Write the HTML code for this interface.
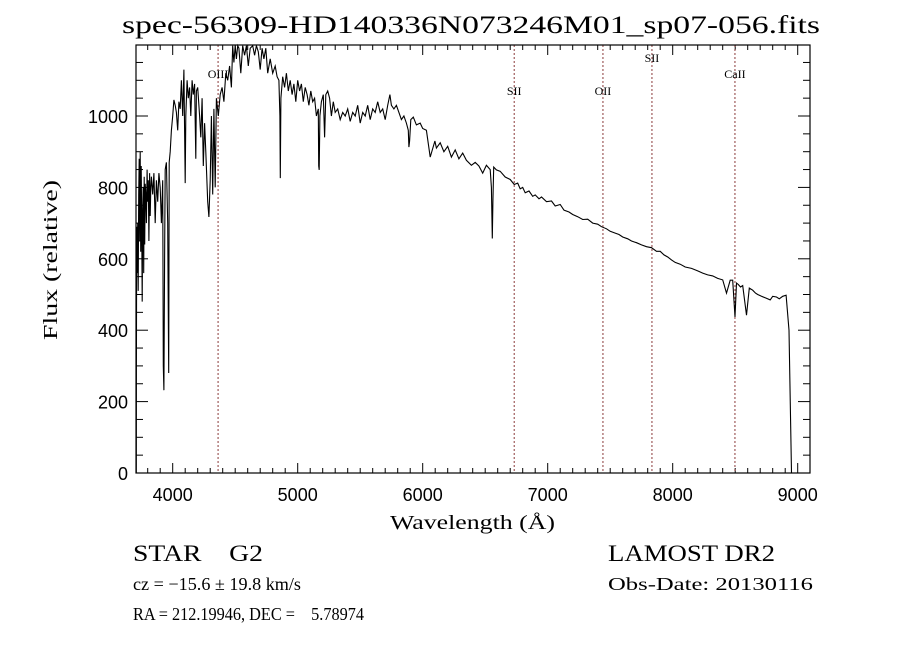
<!DOCTYPE html>
<html><head><meta charset="utf-8"><style>
html,body{margin:0;padding:0;background:#fff;}
svg{display:block;}
</style></head><body>
<svg id="chart" width="900" height="649" viewBox="0 0 900 649" xmlns="http://www.w3.org/2000/svg">
<rect x="0" y="0" width="900" height="649" fill="#fff"/>
<text x="122" y="33" font-family="Liberation Serif, serif" font-size="25" textLength="698" lengthAdjust="spacingAndGlyphs">spec-56309-HD140336N073246M01_sp07-056.fits</text>
<g id="axes"></g>
<g id="lines"></g>
<path id="spec" fill="none" stroke="#000" stroke-width="1.1"/>
<rect x="136" y="45" width="674" height="428" fill="none" stroke="#000" stroke-width="1.2"/>
<text x="390" y="529" font-family="Liberation Serif, serif" font-size="20" textLength="165" lengthAdjust="spacingAndGlyphs">Wavelength (Å)</text>
<text transform="translate(57,340) rotate(-90)" font-family="Liberation Serif, serif" font-size="20" textLength="160" lengthAdjust="spacingAndGlyphs">Flux (relative)</text>
<text x="133" y="561" font-family="Liberation Serif, serif" font-size="23" textLength="130" lengthAdjust="spacingAndGlyphs" xml:space="preserve" style="white-space:pre">STAR    G2</text>
<text x="608" y="561" font-family="Liberation Serif, serif" font-size="23" textLength="167" lengthAdjust="spacingAndGlyphs">LAMOST DR2</text>
<text x="133" y="590" font-family="Liberation Serif, serif" font-size="18" textLength="168" lengthAdjust="spacingAndGlyphs">cz = −15.6 ± 19.8 km/s</text>
<text x="608" y="590" font-family="Liberation Serif, serif" font-size="18" textLength="205" lengthAdjust="spacingAndGlyphs">Obs-Date: 20130116</text>
<text x="133" y="620" font-family="Liberation Serif, serif" font-size="18" textLength="231" lengthAdjust="spacingAndGlyphs" xml:space="preserve" style="white-space:pre">RA = 212.19946, DEC =    5.78974</text>
</svg>
<script>
const wavelengths=[3709,3710,3712,3716,3720,3724,3728,3732,3736,3740,3744,3748,3752,3756,3760,3764,3768,3772,3776,3780,3785,3790,3795,3800,3805,3810,3815,3820,3825,3830,3840,3850,3860,3870,3880,3890,3900,3910,3920,3925,3930,3935,3940,3950,3960,3968,3972,3980,3990,4000,4010,4020,4030,4040,4050,4060,4070,4080,4090,4100,4105,4115,4125,4135,4145,4155,4165,4175,4185,4190,4200,4215,4225,4235,4245,4255,4265,4280,4290,4300,4310,4320,4330,4340,4350,4365,4380,4395,4410,4425,4440,4455,4470,4480,4490,4500,4510,4520,4530,4545,4560,4575,4590,4605,4620,4640,4655,4670,4685,4700,4715,4730,4745,4760,4780,4800,4820,4835,4850,4858,4861,4866,4880,4895,4910,4925,4940,4955,4970,4985,5000,5015,5030,5045,5060,5075,5090,5105,5120,5135,5150,5165,5168,5172,5178,5190,5205,5215,5225,5240,5255,5270,5285,5300,5320,5340,5360,5380,5400,5420,5440,5460,5480,5500,5520,5540,5560,5580,5600,5620,5640,5660,5680,5700,5720,5738,5750,5770,5790,5810,5830,5850,5870,5885,5890,5895,5905,5925,5950,5980,6000,6030,6060,6098,6110,6140,6170,6200,6230,6260,6290,6320,6350,6390,6420,6450,6480,6510,6540,6550,6557,6562,6568,6590,6620,6660,6700,6732,6760,6780,6800,6820,6850,6880,6900,6930,6950,6990,7030,7060,7100,7130,7170,7200,7240,7280,7320,7360,7400,7430,7470,7500,7540,7570,7600,7640,7670,7710,7750,7790,7830,7870,7900,7930,7960,7990,8020,8060,8100,8150,8200,8240,8280,8320,8360,8400,8430,8460,8480,8498,8510,8525,8542,8560,8590,8613,8640,8662,8680,8710,8747,8780,8800,8830,8853,8880,8907,8930,8950,8982,8992,8996];
const fluxes=[0,300,690,560,700,510,780,880,650,900,620,860,700,480,740,800,560,830,640,810,780,700,850,760,820,650,840,720,800,830,780,840,700,820,760,840,800,700,820,300,232,600,850,870,700,280,870,900,960,1000,1045,1030,1010,960,1040,1020,1100,1000,1130,812,1000,1100,1050,1080,1000,1100,1060,1090,880,1070,1080,1000,940,1050,860,980,900,760,717,820,1000,780,1020,800,1050,1000,1060,1080,1040,1120,1100,1140,1080,1200,1150,1230,1160,1220,1190,1120,1210,1170,1200,1140,1190,1210,1170,1200,1180,1130,1190,1160,1190,1120,1160,1120,1140,1110,1100,1000,826,1050,1110,1080,1120,1070,1100,1060,1090,1040,1100,1070,1090,1040,1080,1060,1030,1070,1040,1050,1000,1020,860,849,1000,1040,1060,940,1060,1070,1050,1000,1040,1010,1020,990,1010,1000,1020,985,1010,1000,1030,980,1010,1000,1030,990,1020,1010,1040,1010,1020,990,1030,1060,1030,1020,1030,1010,990,1000,980,960,913,930,990,997,975,980,965,960,885,930,910,925,900,915,885,905,880,896,876,862,870,860,840,862,850,800,657,760,857,849,845,829,822,808,812,796,800,785,790,775,779,768,773,760,762,748,752,736,731,724,718,710,711,700,697,690,684,677,672,668,661,656,650,645,639,634,631,621,621,611,605,597,590,585,577,573,566,560,555,552,545,541,504,540,540,437,532,528,521,525,442,518,512,504,500,495,490,485,495,493,488,495,498,400,0];
const tickLabelsX=["4000","5000","6000","7000","8000","9000"];
const tickLabelsY=["0","200","400","600","800","1000"];
const lineWaves=[4363,6732,7442,7834,8498];
const lineNames=["OIII","SII","OII","SII","CaII"];
const lineLabelY=[1120,1073,1073,1165,1120];

const X0=136,X1=810,Y0=473,Y1=45;
function xs(w){return 172.7+(w-4000)*0.125;}
function ys(v){return 473-v*0.357;}
const NS="http://www.w3.org/2000/svg";
const axes=document.getElementById('axes');
function mk(tag,attrs,parent){const e=document.createElementNS(NS,tag);for(const k in attrs)e.setAttribute(k,attrs[k]);parent.appendChild(e);return e;}

for(let w=3800;w<=9000;w+=100){
  const x=xs(w);if(x<X0||x>X1)continue;
  const major=(w%1000===0);const L=major?10:5;
  const t1=mk('line',{x1:x,x2:x,y1:Y0,y2:Y0-L,stroke:'#000','stroke-width':1},axes);
  
  
  const t2=mk('line',{x1:x,x2:x,y1:Y1,y2:Y1+L,stroke:'#000','stroke-width':1},axes);
  
  
}
tickLabelsX.forEach(s=>{
  const t=mk('text',{x:xs(+s),y:501,'text-anchor':'middle','font-family':'Liberation Sans, sans-serif','font-size':18},axes);
  t.textContent=s;
  
  
});
for(let v=0;v<=1250;v+=50){
  const y=ys(v);if(y<Y1)continue;
  const major=(v%200===0);const L=major?12:7;
  const t1=mk('line',{x1:X0,x2:X0+L,y1:y,y2:y,stroke:'#000','stroke-width':1},axes);
  
  
  const t2=mk('line',{x1:X1,x2:X1-L,y1:y,y2:y,stroke:'#000','stroke-width':1},axes);
  
  
}
tickLabelsY.forEach(s=>{
  const t=mk('text',{x:128,y:ys(+s)+7,'text-anchor':'end','font-family':'Liberation Sans, sans-serif','font-size':18},axes);
  t.textContent=s;
  
  
});
const lg=document.getElementById('lines');
lineWaves.forEach((w,i)=>{
  const x=xs(w);
  const l=mk('line',{x1:x,x2:x,y1:Y1,y2:Y0,stroke:'#8b3a3a','stroke-width':1,'stroke-dasharray':'2,2'},lg);
  
  
  const t=mk('text',{x:x,y:ys(lineLabelY[i])+5,'text-anchor':'middle','font-family':'Liberation Serif, serif','font-size':12},lg);
  t.textContent=lineNames[i];
  
  
});
let d='';
for(let i=0;i<wavelengths.length;i++){
  const v=Math.min(fluxes[i],1197);
  d+=(i?'L':'M')+xs(wavelengths[i]).toFixed(1)+','+ys(v).toFixed(1);
}
document.getElementById('spec').setAttribute('d',d);
</script>
</body></html>
